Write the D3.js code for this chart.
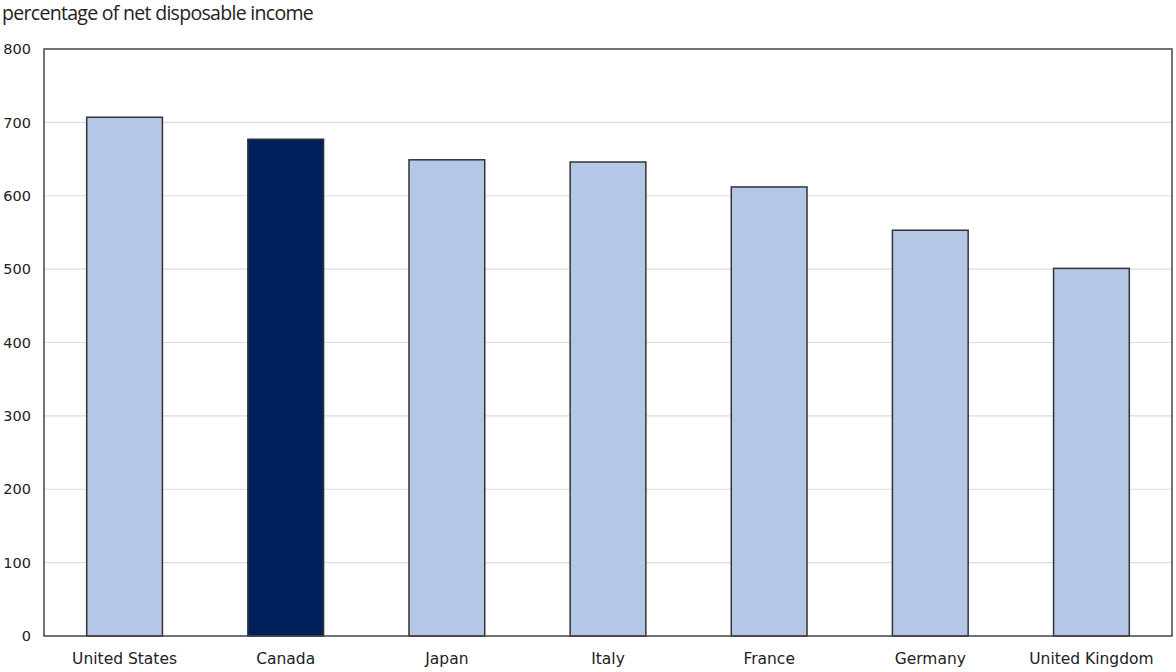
<!DOCTYPE html>
<html>
<head>
<meta charset="utf-8">
<script src="https://cdn.jsdelivr.net/npm/d3@7"></script>
<style>
  html, body { margin: 0; padding: 0; background: #fff; }
  svg { display: block; }
</style>
</head>
<body>
<svg id="chart" width="1176" height="672"></svg>
<script>
// Household net worth by country, percentage of net disposable income
const countries = ["United States", "Canada", "Japan", "Italy", "France", "Germany", "United Kingdom"];
const values = [707, 677, 649, 646, 612, 553, 501];
const highlight = "Canada";
const yTicks = [0, 100, 200, 300, 400, 500, 600, 700, 800];
const yTitle = "percentage of net disposable income";

const svg = d3.select("#chart");
const margin = { top: 49, right: 4, bottom: 36, left: 44 };
const W = 1176, H = 672;
const innerW = W - margin.left - margin.right;
const innerH = H - margin.top - margin.bottom;

const g = svg.append("g").attr("transform", `translate(${margin.left},${margin.top})`);

const x = d3.scaleBand().domain(countries).range([0, innerW]).paddingInner(0.53).paddingOuter(0.265);
const y = d3.scaleLinear().domain([0, 800]).range([innerH, 0]);

// horizontal gridlines
g.append("g")
  .selectAll("line")
  .data(yTicks.filter(d => d > 0 && d < 800))
  .join("line")
  .attr("x1", 0).attr("x2", innerW)
  .attr("y1", d => y(d)).attr("y2", d => y(d))
  .attr("stroke", "#dcdcdc").attr("stroke-width", 1.2);

// bars
g.append("g")
  .selectAll("rect")
  .data(countries.map((c, i) => ({ c, v: values[i] })))
  .join("rect")
  .attr("x", d => x(d.c))
  .attr("y", d => y(d.v))
  .attr("width", x.bandwidth())
  .attr("height", d => y(0) - y(d.v))
  .attr("fill", d => d.c === highlight ? "#00205b" : "#b4c7e7")
  .attr("stroke", "#333")
  .attr("stroke-width", 1.5);

// plot frame
g.append("rect")
  .attr("x", 0).attr("y", 0)
  .attr("width", innerW).attr("height", innerH)
  .attr("fill", "none")
  .attr("stroke", "#444").attr("stroke-width", 1.5);

// y axis labels
const yAxis = g.append("g")
  .call(d3.axisLeft(y).tickValues(yTicks).tickSize(0).tickPadding(13));
yAxis.select(".domain").remove();
yAxis.selectAll("text")
  .attr("font-family", "DejaVu Sans, Verdana, sans-serif")
  .attr("font-size", 14.5)
  .attr("fill", "#222");

// x axis labels
const xAxis = g.append("g")
  .attr("transform", `translate(0,${innerH})`)
  .call(d3.axisBottom(x).tickSize(0).tickPadding(17));
xAxis.select(".domain").remove();
xAxis.selectAll("text")
  .attr("font-family", "DejaVu Sans, Verdana, sans-serif")
  .attr("font-size", 15.5)
  .attr("fill", "#222");

// axis title
svg.append("text")
  .attr("x", 2).attr("y", 20)
  .attr("font-family", "Open Sans, sans-serif")
  .attr("font-size", 19.5)
  .attr("letter-spacing", -0.7)
  .attr("fill", "#222")
  .text(yTitle);
</script>
</body>
</html>
